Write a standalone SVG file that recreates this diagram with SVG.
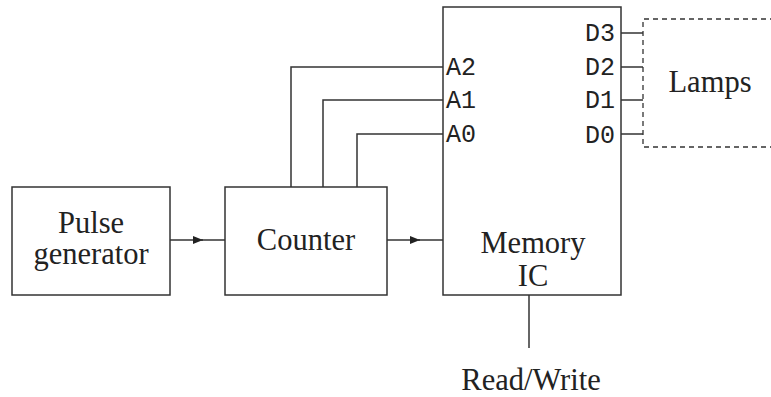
<svg xmlns="http://www.w3.org/2000/svg" width="771" height="397" viewBox="0 0 771 397">
<style>
.box{fill:#fff;stroke:#333;stroke-width:1.5}
.ln{fill:none;stroke:#333;stroke-width:1.5}
.dash{fill:none;stroke:#333;stroke-width:1.3;stroke-dasharray:5,4}
.t{font-family:"Liberation Serif","Times New Roman",serif;font-size:30.5px;fill:#222;text-anchor:middle}
.m{font-family:"Liberation Mono","Courier New",monospace;font-size:25px;fill:#222}
</style>
<defs>
<marker id="ah" viewBox="0 0 10 8" refX="10" refY="4" markerWidth="10" markerHeight="8" markerUnits="userSpaceOnUse" orient="auto">
<path d="M0,0 L10,4 L0,8 z" fill="#222"/>
</marker>
</defs>
<g id="connectors">
<line class="ln" x1="170" y1="240" x2="203" y2="240" marker-end="url(#ah)"/>
<line class="ln" x1="200" y1="240" x2="225" y2="240"/>
<line class="ln" x1="387" y1="240" x2="420" y2="240" marker-end="url(#ah)"/>
<line class="ln" x1="417" y1="240" x2="443" y2="240"/>
<polyline class="ln" points="291,187 291,67 443,67"/>
<polyline class="ln" points="323,187 323,100 443,100"/>
<polyline class="ln" points="357,187 357,134 443,134"/>
<line class="ln" x1="621" y1="33" x2="643" y2="33"/>
<line class="ln" x1="621" y1="67" x2="643" y2="67"/>
<line class="ln" x1="621" y1="100" x2="643" y2="100"/>
<line class="ln" x1="621" y1="134" x2="643" y2="134"/>
<line class="ln" x1="529" y1="295" x2="529" y2="348"/>
</g>
<g id="pulse">
<rect class="box" x="12" y="187" width="158" height="108"/>
<text class="t" x="91" y="233">Pulse</text>
<text class="t" x="91" y="264">generator</text>
</g>
<g id="counter">
<rect class="box" x="225" y="187" width="162" height="108"/>
<text class="t" x="306" y="250">Counter</text>
</g>
<g id="memory">
<rect class="box" x="443" y="7" width="178" height="288"/>
<text class="m" x="446" y="75">A2</text>
<text class="m" x="446" y="108">A1</text>
<text class="m" x="446" y="142">A0</text>
<text class="m" x="615" y="41" text-anchor="end">D3</text>
<text class="m" x="615" y="75" text-anchor="end">D2</text>
<text class="m" x="615" y="108" text-anchor="end">D1</text>
<text class="m" x="615" y="143" text-anchor="end">D0</text>
<text class="t" x="533" y="253">Memory</text>
<text class="t" x="533" y="286">IC</text>
</g>
<g id="lamps">
<polyline class="dash" points="775,19 643,19 643,147 775,147"/>
<text class="t" x="710" y="92">Lamps</text>
</g>
<g id="rw">
<text class="t" x="531" y="390">Read/Write</text>
</g>
</svg>
